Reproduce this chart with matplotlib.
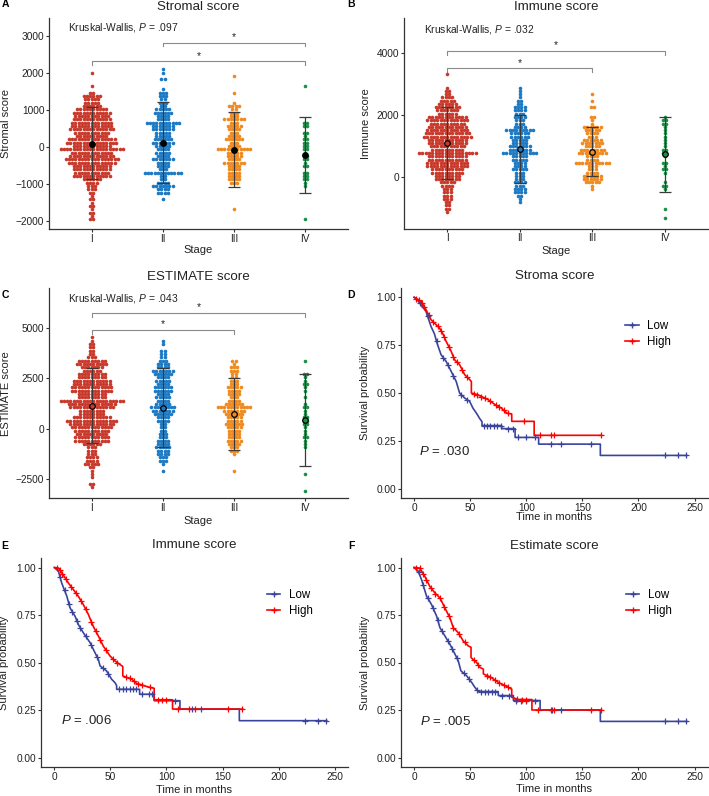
import numpy as np
import matplotlib
matplotlib.use('Agg')
import matplotlib.pyplot as plt
from matplotlib.lines import Line2D

plt.rcParams['font.family'] = ['Liberation Sans', 'DejaVu Sans']
plt.rcParams['mathtext.fontset'] = 'custom'
plt.rcParams['mathtext.it'] = 'Liberation Sans:italic'
plt.rcParams['mathtext.rm'] = 'Liberation Sans'

# ---------------- common ----------------
stages = ['I', 'II', 'III', 'IV']
stage_colors = ['#C9392B', '#1C79C4', '#EF8A21', '#1B9049']
km_labels = ['Low', 'High']
km_colors = ['#3A449C', '#FF0000']

# ---------------- A: Stromal score (dot rows: top value, bin width, counts per row) ----
stromal_top = 2090
stromal_bw = 90
stromal_I = [0, 1, 0, 0, 0, 1, 0, 2, 6, 5, 5, 6, 10, 12, 11, 12, 13, 13, 14, 11, 10, 15, 16, 12, 20, 13,
             14, 17, 15, 12, 12, 11, 12, 6, 4, 3, 3, 2, 1, 2, 1, 2, 1, 2, 1, 2]
stromal_II = [1, 1, 0, 2, 0, 0, 1, 3, 3, 2, 3, 2, 5, 6, 4, 4, 11, 7, 7, 5, 5, 6, 7, 5, 4, 5, 4, 7, 4, 4,
              3, 12, 2, 2, 4, 7, 4, 4, 0, 1]
stromal_III = [0, 0, 1, 0, 0, 0, 0, 1, 0, 0, 1, 4, 2, 3, 3, 7, 3, 5, 4, 3, 4, 6, 3, 4, 11, 5, 5, 4, 7, 4,
               4, 4, 4, 4, 3, 0, 0, 0, 0, 0, 0, 0, 1]
stromal_IV = [0, 0, 0, 0, 0, 1, 0, 0, 0, 0, 0, 0, 0, 0, 0, 0, 2, 2, 0, 2, 1, 2, 2, 2, 2, 1, 2, 2, 1, 2,
              0, 2, 2, 2, 1, 1, 0, 0, 0, 0, 0, 0, 0, 0, 0, 1]
stromal_mean = [60, 100, -80, -224]
stromal_lo = [-880, -973, -1081, -1243]
stromal_hi = [1060, 1200, 946, 803]
stromal_brackets = [(1, 4, 2316), (2, 4, 2811)]
stromal_kw = '.097'

# ---------------- B: Immune score ----------------
immune_top = 3300
immune_bw = 105
immune_I = [1, 0, 0, 0, 1, 2, 2, 4, 5, 6, 8, 7, 6, 12, 13, 11, 12, 13, 14, 15, 12, 12, 11, 10, 18, 12,
            12, 13, 13, 10, 10, 8, 8, 5, 4, 3, 3, 3, 3, 2, 2, 2, 1]
immune_II = [0, 0, 0, 0, 1, 1, 1, 1, 2, 2, 4, 4, 3, 4, 3, 3, 4, 9, 6, 6, 5, 5, 7, 7, 11, 5, 5, 4, 4, 5,
             3, 3, 3, 4, 3, 4, 4, 2, 1, 1]
immune_III = [0, 0, 0, 0, 0, 0, 1, 0, 1, 0, 2, 0, 0, 2, 1, 1, 6, 5, 4, 3, 6, 7, 5, 8, 9, 4, 4, 11, 3, 3,
              4, 6, 6, 5, 1, 1]
immune_IV = [0, 0, 0, 0, 0, 0, 0, 0, 0, 0, 0, 0, 0, 1, 2, 2, 1, 1, 1, 1, 1, 1, 1, 2, 2, 1, 0, 2, 1, 2,
             1, 0, 0, 1, 2, 1, 0, 0, 0, 0, 0, 1, 0, 0, 1]
immune_mean = [1100, 907, 820, 746]
immune_lo = [-50, -180, 50, -460]
immune_hi = [2250, 2000, 1600, 1940]
immune_brackets = [(1, 3, 3494), (1, 4, 4058)]
immune_kw = '.032'

# ---------------- C: ESTIMATE score ----------------
estimate_top = 4520
estimate_bw = 165
estimate_I = [1, 1, 2, 2, 2, 2, 3, 9, 10, 7, 6, 9, 9, 12, 12, 13, 13, 9, 9, 20, 15, 14, 8, 8, 12, 16,
              14, 13, 11, 10, 11, 11, 6, 3, 3, 3, 4, 4, 5, 2, 1, 1, 1, 0, 2, 1]
estimate_II = [0, 1, 1, 0, 2, 2, 2, 3, 4, 4, 7, 6, 4, 5, 4, 6, 6, 4, 5, 4, 5, 8, 7, 6, 4, 4, 2, 2, 2, 3,
               3, 4, 4, 5, 4, 4, 3, 3, 1, 0, 1]
estimate_III = [0, 0, 0, 0, 0, 0, 0, 2, 1, 3, 3, 2, 2, 3, 3, 5, 4, 4, 3, 4, 6, 11, 7, 6, 5, 5, 6, 5, 4, 4,
                4, 5, 4, 3, 3, 1, 0, 0, 0, 0, 1]
estimate_IV = [0, 0, 0, 0, 0, 0, 0, 1, 0, 0, 0, 2, 1, 1, 2, 1, 1, 0, 1, 0, 1, 2, 1, 1, 2, 2, 2, 1, 1, 1,
               2, 1, 1, 1, 0, 0, 0, 0, 0, 0, 0, 1, 0, 0, 0, 0, 1]
estimate_mean = [1140, 1040, 728, 431]
estimate_lo = [-700, -890, -1050, -1832]
estimate_hi = [3000, 2990, 2525, 2693]
estimate_brackets = [(1, 3, 4886), (1, 4, 5743)]
estimate_kw = '.043'

# ---------------- D: Stroma score KM ----------------
d_low_t = [0, 3, 10.5, 15, 18, 21, 24, 28.5, 33, 37.5, 40.5, 45, 49.5, 52.5, 55.5, 58.5, 60.5, 60.5,
           78, 78, 90, 90, 111, 111, 166, 166, 243]
d_low_s = [1.0, 0.985, 0.927, 0.848, 0.81, 0.75, 0.70, 0.665, 0.613, 0.56, 0.50, 0.474, 0.456, 0.42,
           0.395, 0.366, 0.35, 0.33, 0.33, 0.314, 0.314, 0.268, 0.268, 0.233, 0.233, 0.174, 0.174]
d_low_c = [5, 12, 20, 26, 30, 35, 42, 47, 62, 65, 68, 71, 74, 77, 84, 88, 93, 100, 108, 122, 131,
           158, 224, 235, 242]
d_high_t = [0, 6, 10.5, 15, 19.5, 22.5, 25.5, 28.5, 33, 36, 40.5, 45, 49.5, 51, 51, 57, 66, 72, 78,
            82.5, 87, 87, 107, 107, 167]
d_high_s = [1.0, 0.98, 0.936, 0.883, 0.857, 0.84, 0.81, 0.77, 0.718, 0.674, 0.648, 0.596, 0.57, 0.56,
            0.50, 0.49, 0.465, 0.44, 0.42, 0.395, 0.39, 0.352, 0.352, 0.279, 0.279]
d_high_c = [2, 4, 7, 9, 13, 17, 21, 24, 27, 31, 35, 38, 43, 47, 53, 56, 60, 63, 68, 73, 76, 80, 84,
            98, 112, 122, 125, 167]
d_p = '.030'

# ---------------- E: Immune score KM ----------------
e_low_t = [0, 3.6, 6.5, 11, 14, 18.4, 21.4, 25.8, 31.8, 36.2, 39.2, 40.7, 46.6, 51, 54, 55.5, 55.5,
           76, 76, 89, 89, 112, 112, 165, 165, 243]
e_low_s = [1, 0.98, 0.918, 0.85, 0.787, 0.744, 0.70, 0.657, 0.605, 0.552, 0.517, 0.483, 0.456, 0.413,
           0.395, 0.38, 0.36, 0.36, 0.334, 0.334, 0.30, 0.30, 0.256, 0.256, 0.195, 0.195]
e_low_c = [5, 9, 13, 16, 20, 23, 28, 33, 38, 43, 48, 58, 61, 64, 67, 70, 73, 78, 84, 87, 108, 123,
           131, 224, 235, 242]
e_high_t = [0, 3.6, 8, 12.5, 17, 21.4, 25.8, 30.3, 34.7, 39.2, 43.6, 49.6, 54, 58.5, 61, 61, 69, 73,
            82, 89, 89, 105.4, 105.4, 168]
e_high_s = [1, 0.997, 0.96, 0.918, 0.883, 0.848, 0.805, 0.753, 0.69, 0.64, 0.587, 0.535, 0.509, 0.49,
            0.48, 0.43, 0.413, 0.392, 0.375, 0.365, 0.305, 0.305, 0.256, 0.256]
e_high_c = [2, 5, 7, 10, 15, 19, 24, 28, 33, 37, 41, 46, 52, 56, 64, 67, 71, 75, 78, 85, 92, 96, 100,
            110, 120, 125, 155, 167]
e_p = '.006'

# ---------------- F: Estimate score KM ----------------
f_low_t = [0, 3.6, 6.6, 11, 15.5, 20, 23, 27.4, 31.9, 36.4, 39.3, 41.7, 46.8, 51.3, 54.2, 57.2, 75, 75,
           88.5, 88.5, 112.3, 112.3, 166, 166, 243]
f_low_s = [1, 0.98, 0.936, 0.85, 0.805, 0.744, 0.683, 0.64, 0.596, 0.544, 0.509, 0.456, 0.43, 0.395,
           0.369, 0.347, 0.347, 0.326, 0.326, 0.30, 0.30, 0.25, 0.25, 0.19, 0.19]
f_low_c = [4, 8, 12, 17, 21, 25, 30, 34, 38, 44, 49, 56, 60, 63, 66, 69, 72, 78, 85, 91, 95, 100, 108,
           123, 131, 224, 235, 242]
f_high_t = [0, 5, 9.5, 14, 18.5, 23, 27.4, 31.9, 34.9, 39.3, 43.8, 48.3, 50.7, 50.7, 55.7, 58.7, 61.7,
            61.7, 69, 75, 81, 87, 87, 93, 105, 105, 167]
f_high_s = [1, 0.997, 0.953, 0.90, 0.866, 0.84, 0.787, 0.735, 0.683, 0.657, 0.613, 0.587, 0.58, 0.526,
            0.50, 0.474, 0.465, 0.44, 0.42, 0.395, 0.378, 0.36, 0.317, 0.305, 0.305, 0.25, 0.25]
f_high_c = [2, 5, 8, 11, 15, 19, 23, 27, 31, 35, 40, 45, 53, 57, 65, 68, 72, 76, 80, 84, 92, 96, 100,
            110, 122, 125, 158, 167]
f_p = '.005'

# ---------------- figure ----------------
W, H = 709, 796
fig = plt.figure(figsize=(W / 100, H / 100), dpi=100)


def px_axes(l, t, r, b):
    return fig.add_axes([l / W, 1 - b / H, (r - l) / W, (b - t) / H])


TXT = '#222222'
SP = '#333333'
FS_TICK = 7.3
FS_LAB = 8
FS_TITLE = 9.6


def style(ax):
    for s in ['top', 'right']:
        ax.spines[s].set_visible(False)
    for s in ['left', 'bottom']:
        ax.spines[s].set_linewidth(0.9)
        ax.spines[s].set_color(SP)
    ax.tick_params(length=2.2, width=0.8, color=SP, labelsize=FS_TICK, pad=1.2, labelcolor=TXT)


def dot_panel(ax, top, bw, groups, means, los, his, brackets, kw, ylim, yticks, ylabel, title,
              kwxy, tip, mean_fill, ylab_x, xlab_y, title_y):
    step = 0.046
    for i, counts in enumerate(groups):
        xs, ys = [], []
        for k, n in enumerate(counts):
            if n == 0:
                continue
            off = (np.arange(n) - (n - 1) / 2) * step
            xs.extend(i + 1 + off)
            ys.extend([top - k * bw] * n)
        ax.plot(xs, ys, 'o', ms=2.6, mew=0, color=stage_colors[i], zorder=2)
    x = np.arange(1, 5)
    m = np.array(means)
    ax.errorbar(x, m, yerr=[m - np.array(los), np.array(his) - m], fmt='none', ecolor='#3a3a3a',
                elinewidth=0.9, capsize=4, capthick=0.9, zorder=3)
    for i in range(4):
        ax.plot(x[i], m[i], 'o', ms=4, mec='black', mew=0.9,
                mfc='black' if mean_fill else stage_colors[i], zorder=4)
    for (a, b, y) in brackets:
        ax.plot([a, a, b, b], [y - tip, y, y, y - tip], color='#8a8a8a', lw=0.8, zorder=1)
        ax.annotate('*', xy=((a + b) / 2, y), xytext=(0, 0.3), textcoords='offset points',
                    ha='center', va='bottom', fontsize=7.5, color=TXT)
    ax.text(kwxy[0], kwxy[1], 'Kruskal-Wallis, $P$ = ' + kw, ha='left', va='center', fontsize=7.4,
            color=TXT)
    ax.set_xlim(0.4, 4.6)
    ax.set_ylim(*ylim)
    ax.set_xticks(x)
    ax.set_xticklabels(stages)
    ax.set_yticks(yticks)
    style(ax)
    ax.set_ylabel(ylabel, fontsize=FS_LAB, color=TXT)
    ax.set_xlabel('Stage', fontsize=FS_LAB, color=TXT)
    ax.yaxis.set_label_coords(ylab_x, 0.5)
    ax.xaxis.set_label_coords(0.5, xlab_y)
    ax.text(0.5, title_y, title, transform=ax.transAxes, ha='center', va='center', fontsize=FS_TITLE,
            color=TXT)


def km_panel(ax, curves, p, title, pxy, leg_xy, ylab_x, xlab_y, title_y):
    for (t, s, c), col in zip(curves, km_colors):
        ax.plot(t, s, color=col, lw=1.2, zorder=2)
        ax.plot(c, np.interp(c, t, s), '+', color=col, ms=4, mew=0.9, zorder=3)
    ax.set_xlim(-12, 262)
    ax.set_ylim(-0.05, 1.05)
    ax.set_xticks([0, 50, 100, 150, 200, 250])
    ax.set_yticks([0, 0.25, 0.5, 0.75, 1.0])
    ax.set_yticklabels(['0.00', '0.25', '0.50', '0.75', '1.00'])
    style(ax)
    ax.set_ylabel('Survival probability', fontsize=FS_LAB, color=TXT)
    ax.set_xlabel('Time in months', fontsize=FS_LAB, color=TXT)
    ax.yaxis.set_label_coords(ylab_x, 0.5)
    ax.xaxis.set_label_coords(0.5, xlab_y)
    ax.text(pxy[0], pxy[1], '$P$ = ' + p, ha='left', va='center', fontsize=9.5, color=TXT)
    handles = [Line2D([0], [0], color=c, lw=1.2, marker='+', ms=5, mew=1) for c in km_colors]
    ax.legend(handles, km_labels, loc='upper left', bbox_to_anchor=leg_xy, frameon=False,
              fontsize=8.3, handlelength=1.2, handletextpad=0.7, labelspacing=0.3, borderpad=0,
              borderaxespad=0, numpoints=1)
    ax.text(0.5, title_y, title, transform=ax.transAxes, ha='center', va='center', fontsize=FS_TITLE,
            color=TXT)


axA = px_axes(49, 18, 348, 229)
dot_panel(axA, stromal_top, stromal_bw, [stromal_I, stromal_II, stromal_III, stromal_IV],
          stromal_mean, stromal_lo, stromal_hi, stromal_brackets, stromal_kw, (-2224, 3478),
          [-2000, -1000, 0, 1000, 2000, 3000], 'Stromal score', 'Stromal score', (0.665, 3208),
          100, True, -0.128, -0.078, 1.052)

axB = px_axes(404, 18, 708, 228.7)
dot_panel(axB, immune_top, immune_bw, [immune_I, immune_II, immune_III, immune_IV],
          immune_mean, immune_lo, immune_hi, immune_brackets, immune_kw, (-1648, 5112),
          [0, 2000, 4000], 'Immune score', 'Immune score', (0.68, 4753),
          130, False, -0.11, -0.082, 1.052)

axC = px_axes(49, 288, 348, 498.3)
dot_panel(axC, estimate_top, estimate_bw, [estimate_I, estimate_II, estimate_III, estimate_IV],
          estimate_mean, estimate_lo, estimate_hi, estimate_brackets, estimate_kw, (-3440, 6963),
          [-2500, 0, 2500, 5000], 'ESTIMATE score', 'ESTIMATE score', (0.665, 6455),
          200, False, -0.128, -0.086, 1.054)

axD = px_axes(400.7, 287.7, 708, 498.3)
km_panel(axD, [(d_low_t, d_low_s, d_low_c), (d_high_t, d_high_s, d_high_c)], d_p, 'Stroma score',
         (4.5, 0.195), (0.73, 0.845), -0.10, -0.063, 1.056)

axE = px_axes(41, 558, 348, 767.3)
km_panel(axE, [(e_low_t, e_low_s, e_low_c), (e_high_t, e_high_s, e_high_c)], e_p, 'Immune score',
         (6.0, 0.195), (0.735, 0.85), -0.103, -0.083, 1.062)

axF = px_axes(400.7, 558, 708, 767)
km_panel(axF, [(f_low_t, f_low_s, f_low_c), (f_high_t, f_high_s, f_high_c)], f_p, 'Estimate score',
         (5.1, 0.19), (0.732, 0.85), -0.10, -0.083, 1.058)

for lab, x, y in [('A', 5, 4), ('B', 351, 4), ('C', 5, 295), ('D', 351, 295), ('E', 5, 546),
                  ('F', 351, 546)]:
    fig.text(x / W, 1 - y / H, lab, fontweight='bold', fontsize=7.5, ha='center', va='center',
             color='black')

fig.savefig('out.png', dpi=100)
